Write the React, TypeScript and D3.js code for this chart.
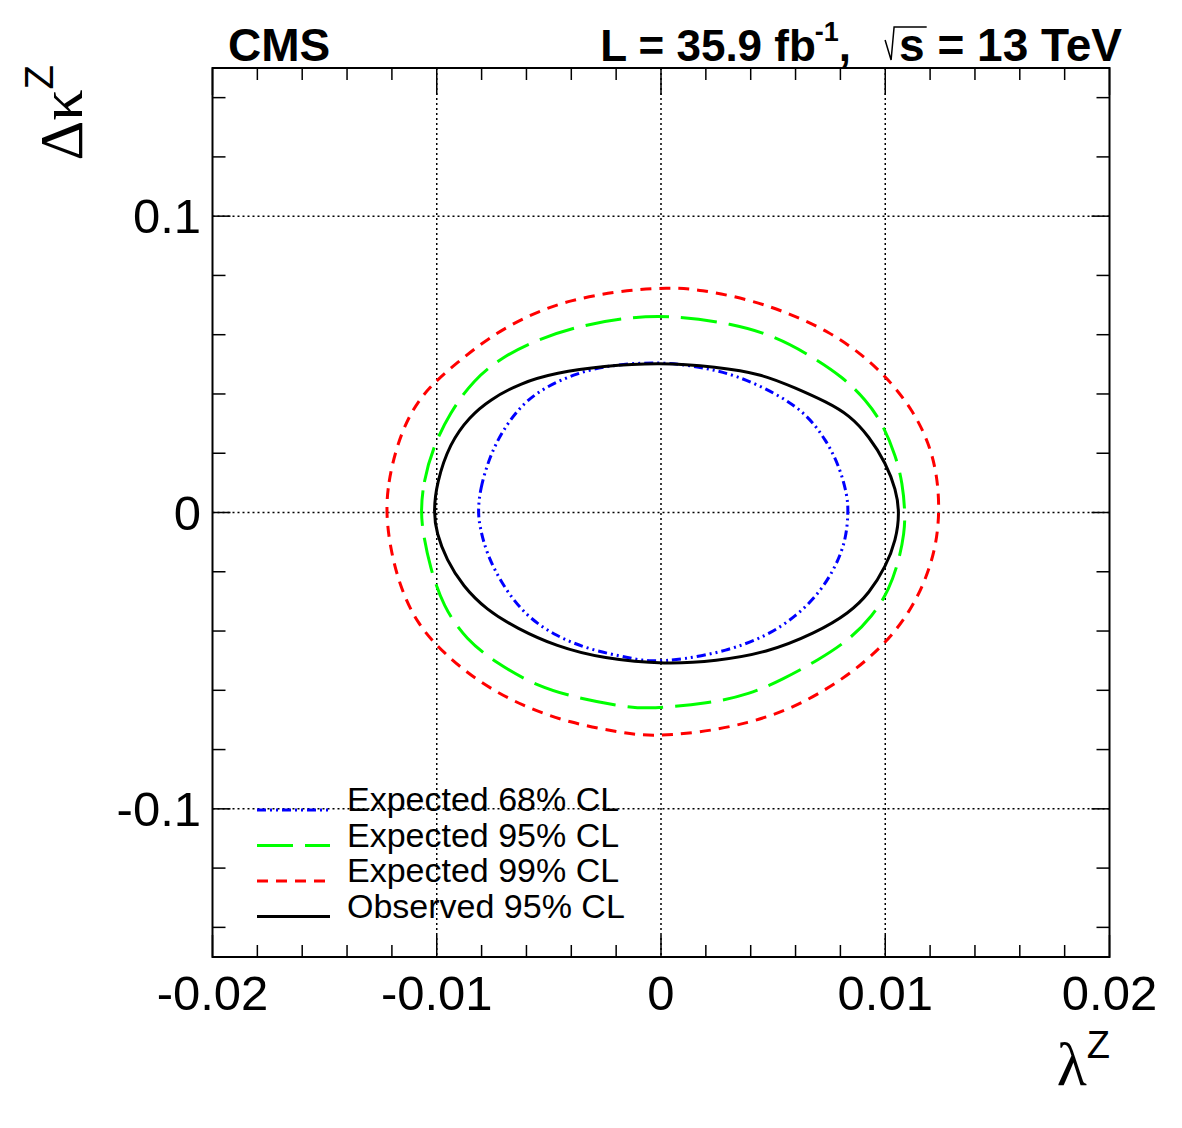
import React, { useLayoutEffect, useRef, useState } from "react";
import * as d3 from "d3";

const width = 1182;
const height = 1128;
const frame = { left: 212.5, right: 1109.5, top: 68, bottom: 957 };

// contour points [lambdaZ, deltaKappaZ]
const expected68 = [
  [-0.00816, 0.0], [-0.00808, 0.0077], [-0.00764, 0.0189], [-0.00705, 0.0279],
  [-0.00616, 0.0369], [-0.00511, 0.0425], [-0.00378, 0.047], [-0.00229, 0.0498],
  [-0.00007, 0.0509], [0.00171, 0.0492], [0.00335, 0.0464], [0.00513, 0.0402],
  [0.00647, 0.0335], [0.00736, 0.0245], [0.00796, 0.0155], [0.00832, 0.0054],
  [0.00835, -0.0002], [0.00825, -0.0092], [0.0078, -0.0182], [0.00706, -0.0272],
  [0.00602, -0.0351], [0.00469, -0.0418], [0.0029, -0.0468], [0.00097, -0.0496],
  [-0.00051, -0.0504], [-0.0014, -0.0491], [-0.00318, -0.0463], [-0.00467, -0.0418],
  [-0.006, -0.0351], [-0.00705, -0.0249], [-0.00779, -0.0137], [-0.00808, -0.0047]
];

const expected95 = [
  [-0.01071, 0.0], [-0.01061, 0.0099], [-0.01016, 0.0222], [-0.00942, 0.0335],
  [-0.00838, 0.0447], [-0.00705, 0.0526], [-0.00556, 0.0582], [-0.00378, 0.0627],
  [-0.0017, 0.0657], [0.00038, 0.0666], [0.0032, 0.0638], [0.00513, 0.0593],
  [0.00661, 0.0532], [0.0081, 0.0458], [0.00914, 0.038], [0.00988, 0.0301],
  [0.01048, 0.0189], [0.01077, 0.0099], [0.01089, -0.0002], [0.01085, -0.0069],
  [0.01062, -0.0159], [0.01018, -0.0261], [0.00943, -0.035], [0.0084, -0.0429],
  [0.00706, -0.0496], [0.00543, -0.0563], [0.00394, -0.0614], [0.00216, -0.0644],
  [-0.00051, -0.0663], [-0.00155, -0.0656], [-0.00348, -0.0631], [-0.00556, -0.0586],
  [-0.00734, -0.0508], [-0.00868, -0.043], [-0.00972, -0.0317], [-0.01031, -0.0182],
  [-0.01061, -0.0069]
];

const expected99 = [
  [-0.01226, 0.0], [-0.01217, 0.0099], [-0.0118, 0.0222], [-0.0112, 0.0335],
  [-0.01035, 0.0424], [-0.00912, 0.0504], [-0.00764, 0.0593], [-0.00586, 0.0668],
  [-0.00407, 0.0717], [-0.00185, 0.0748], [0.00038, 0.076], [0.00171, 0.0753],
  [0.00394, 0.0719], [0.00572, 0.0672], [0.00751, 0.061], [0.00899, 0.0532],
  [0.01018, 0.0447], [0.01122, 0.0346], [0.01196, 0.0234], [0.01233, 0.0121],
  [0.01242, -0.0002], [0.01226, -0.0115], [0.01181, -0.0227], [0.01107, -0.0339],
  [0.01003, -0.044], [0.00869, -0.053], [0.00736, -0.0598], [0.00572, -0.0665],
  [0.00394, -0.071], [0.00171, -0.0744], [-0.00051, -0.0755], [-0.0017, -0.0744],
  [-0.00408, -0.071], [-0.00616, -0.0654], [-0.00808, -0.0575], [-0.00972, -0.0474],
  [-0.0109, -0.0373], [-0.01165, -0.0249], [-0.01209, -0.0115]
];

const observed95 = [
  [-0.01014, 0.0], [-0.01001, 0.0099], [-0.00942, 0.0234], [-0.00853, 0.0324],
  [-0.00764, 0.038], [-0.0063, 0.0436], [-0.00467, 0.0472], [-0.00259, 0.0494],
  [-0.00007, 0.0506], [0.00246, 0.0492], [0.00453, 0.0467], [0.00602, 0.0419],
  [0.00736, 0.0374], [0.0084, 0.0329], [0.00929, 0.0256], [0.01003, 0.0166],
  [0.01048, 0.0077], [0.01064, -0.0002], [0.01048, -0.0092], [0.01003, -0.0182],
  [0.00929, -0.0272], [0.0084, -0.0339], [0.00691, -0.0406], [0.00469, -0.0474],
  [0.00246, -0.0501], [0.00023, -0.0513], [-0.00259, -0.0493], [-0.00467, -0.0452],
  [-0.00645, -0.039], [-0.00779, -0.0328], [-0.00883, -0.0249], [-0.00957, -0.0159],
  [-0.01001, -0.0069]
];

const legendLabels = ["Expected 68% CL", "Expected 95% CL", "Expected 99% CL", "Observed 95% CL"];
const xMajorTicks = [-0.02, -0.01, 0, 0.01, 0.02];
const yMajorTicks = [-0.1, 0, 0.1];

const contours = [
  { data: expected99, label: legendLabels[2], color: "#ff0000", dash: "11,8" },
  { data: expected95, label: legendLabels[1], color: "#00ff00", dash: "36,12" },
  { data: expected68, label: legendLabels[0], color: "#0000ff", dash: "9,4,2,4,2,4" },
  { data: observed95, label: legendLabels[3], color: "#000000", dash: null }
];
const legendOrder = [2, 1, 0, 3];

const sans = "'Liberation Sans', Arial, Helvetica, sans-serif";
const serif = "'Liberation Serif', 'Times New Roman', serif";

const x = d3.scaleLinear().domain([-0.02, 0.02]).range([frame.left, frame.right]);
const y = d3.scaleLinear().domain([-0.15, 0.15]).range([frame.bottom, frame.top]);

const line = d3
  .line<number[]>()
  .x(d => x(d[0]))
  .y(d => y(d[1]))
  .curve(d3.curveBasisClosed);

const xMinor = d3.range(-10, 11).map(i => ({ v: i * 0.002, major: i % 5 === 0 }));
const yMinor = d3.range(-7, 8).map(i => ({ v: i * 0.02, major: i % 5 === 0 }));

const fmt = (d: number) => (d === 0 ? "0" : String(d));

export default function App() {
  const rightRef = useRef<SVGTextElement>(null);
  const [sq, setSq] = useState({ start: 893, sw: 26 });

  useLayoutEffect(() => {
    const el = rightRef.current;
    if (!el) return;
    const total = el.getComputedTextLength();
    const sw = el.getSubStringLength(0, 1);
    setSq({ start: 1122 - total, sw });
  }, []);

  const lumiY = 61;

  return (
    <svg width={width} height={height} style={{ display: "block", margin: "-8px" }}>
      <rect width={width} height={height} fill="#fff" />

      {/* grid */}
      <g stroke="#000" strokeWidth={1.5} strokeDasharray="2,3">
        {xMajorTicks.slice(1, -1).map(d => (
          <line key={"gx" + d} x1={x(d)} x2={x(d)} y1={frame.top} y2={frame.bottom} />
        ))}
        {yMajorTicks.map(d => (
          <line key={"gy" + d} x1={frame.left} x2={frame.right} y1={y(d)} y2={y(d)} />
        ))}
      </g>

      {/* contours */}
      {contours.map(c => (
        <path
          key={c.label}
          d={line(c.data) || ""}
          fill="none"
          stroke={c.color}
          strokeWidth={3}
          strokeDasharray={c.dash || undefined}
        />
      ))}

      {/* legend */}
      {legendOrder.map((ci, i) => {
        const c = contours[ci];
        const ly = 810 + i * 35.5;
        return (
          <g key={"lg" + i}>
            <line x1={257} x2={330} y1={ly} y2={ly} stroke={c.color} strokeWidth={3}
              strokeDasharray={c.dash || undefined} />
            <text x={347} y={ly + 1} fontFamily={sans} fontSize={34} fill="#000">
              {c.label}
            </text>
          </g>
        );
      })}

      {/* frame */}
      <rect x={frame.left} y={frame.top} width={frame.right - frame.left}
        height={frame.bottom - frame.top} fill="none" stroke="#000" strokeWidth={2} />

      {/* ticks */}
      <g stroke="#000" strokeWidth={1.5}>
        {xMinor.map(t => (
          <g key={"xt" + t.v}>
            <line x1={x(t.v)} x2={x(t.v)} y1={frame.bottom} y2={frame.bottom - (t.major ? 22 : 12)} />
            <line x1={x(t.v)} x2={x(t.v)} y1={frame.top} y2={frame.top + (t.major ? 27 : 12)} />
          </g>
        ))}
        {yMinor.map(t => (
          <g key={"yt" + t.v}>
            <line y1={y(t.v)} y2={y(t.v)} x1={frame.left} x2={frame.left + (t.major ? 18 : 13)} />
            <line y1={y(t.v)} y2={y(t.v)} x1={frame.right} x2={frame.right - (t.major ? 18 : 13)} />
          </g>
        ))}
      </g>

      {/* tick labels */}
      <g fontFamily={sans} fontSize={49} fill="#000">
        {xMajorTicks.map(d => (
          <text key={"xl" + d} x={x(d)} y={1010} textAnchor="middle">{fmt(d)}</text>
        ))}
        {yMajorTicks.map(d => (
          <text key={"yl" + d} x={201} y={y(d) + 17} textAnchor="end">{fmt(d)}</text>
        ))}
      </g>

      {/* axis titles */}
      <text x={1110} y={1085} textAnchor="end" fill="#000">
        <tspan fontFamily={serif} fontSize={62}>λ</tspan>
        <tspan fontFamily={sans} fontSize={38} dy={-27}>Z</tspan>
      </text>
      <text transform="translate(82,65) rotate(-90)" textAnchor="end" fill="#000">
        <tspan fontFamily={serif} fontSize={62}>Δκ</tspan>
        <tspan fontFamily={sans} fontSize={40} dy={-29}>Z</tspan>
      </text>

      {/* header */}
      <text x={228} y={lumiY} fontFamily={sans} fontWeight="bold" fontSize={46} fill="#000">CMS</text>
      <text ref={rightRef} x={1122} y={lumiY} textAnchor="end" fontFamily={sans}
        fontWeight="bold" fontSize={46} fill="#000">s = 13 TeV</text>
      <text x={sq.start - 48} y={lumiY} textAnchor="end" fontFamily={sans}
        fontWeight="bold" fontSize={44} fill="#000">
        L = 35.9 fb
        <tspan fontSize={27} dy={-20} dx={-1}>-1</tspan>
        <tspan dy={20}>,</tspan>
      </text>
      <path
        d={`M${sq.start - 14},40 L${sq.start - 8},60 L${sq.start - 5},27 L${sq.start + sq.sw + 2},27`}
        fill="none" stroke="#000" strokeWidth={1.5}
      />
    </svg>
  );
}
